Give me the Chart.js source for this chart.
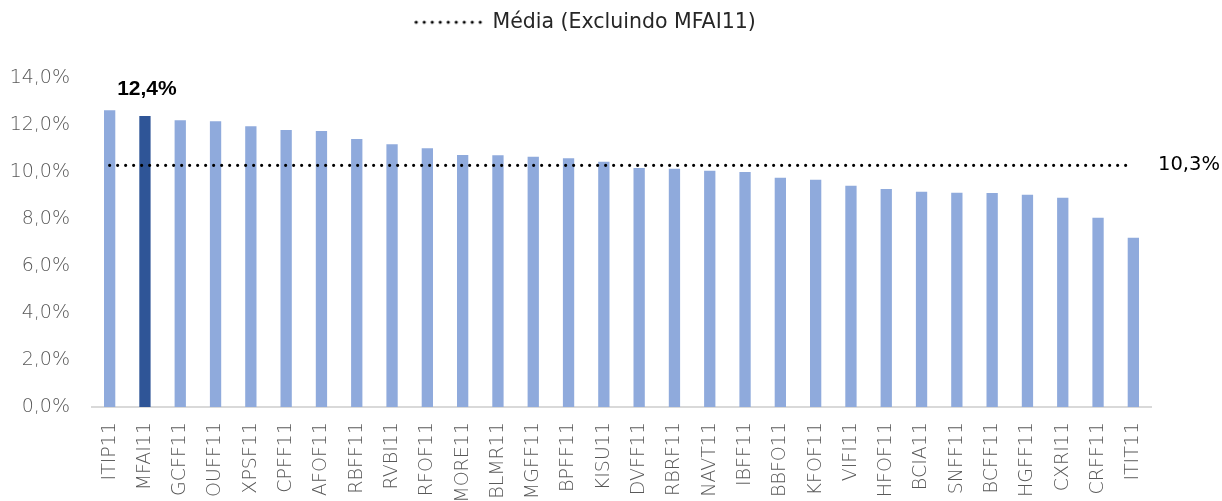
<!DOCTYPE html>
<html>
<head>
<meta charset="utf-8">
<script src="https://cdn.jsdelivr.net/npm/chart.js@4"></script>
<style>
  html, body { margin: 0; background: #fff; }
  #wrap { width: 1222px; height: 501px; }
</style>
</head>
<body>
<div id="wrap"><canvas id="chart"></canvas></div>
<script>
// Fund tickers (x categories)
const funds = [
  'ITIP11', 'MFAI11', 'GCFF11', 'OUFF11', 'XPSF11', 'CPFF11', 'AFOF11', 'RBFF11',
  'RVBI11', 'RFOF11', 'MORE11', 'BLMR11', 'MGFF11', 'BPFF11', 'KISU11', 'DVFF11',
  'RBRF11', 'NAVT11', 'IBFF11', 'BBFO11', 'KFOF11', 'VIFI11', 'HFOF11', 'BCIA11',
  'SNFF11', 'BCFF11', 'HGFF11', 'CXRI11', 'CRFF11', 'ITIT11'
];

// Yield per fund (%)
const yields = [
  12.65, 12.4, 12.22, 12.18, 11.97, 11.8, 11.76, 11.42,
  11.2, 11.03, 10.74, 10.73, 10.66, 10.6, 10.45, 10.19,
  10.15, 10.07, 10.02, 9.77, 9.68, 9.43, 9.29, 9.17,
  9.13, 9.12, 9.05, 8.92, 8.07, 7.21
];

const highlightFund = 'MFAI11';
const averageValue = 10.3;
const averageLabel = 'Média (Excluindo MFAI11)';
const yTicks = [0, 2, 4, 6, 8, 10, 12, 14];

const tickFont = { size: 19, family: "'DejaVu Sans'", weight: '200' };

function pct(v) {
  return v.toFixed(1).replace('.', ',') + '%';
}

// dotted sample used as the legend symbol
function dottedSample(w) {
  const c = document.createElement('canvas');
  c.width = w;
  c.height = 6;
  const g = c.getContext('2d');
  g.strokeStyle = '#000';
  g.lineWidth = 3.2;
  g.lineCap = 'round';
  g.setLineDash([0, 8]);
  g.beginPath();
  g.moveTo(2, 3);
  g.lineTo(w - 2, 3);
  g.stroke();
  return c;
}

// extra room under the legend
const legendGap = {
  id: 'legendGap',
  beforeInit(chart) {
    const fit = chart.legend.fit;
    chart.legend.fit = function () {
      fit.bind(chart.legend)();
      this.height += 36;
    };
  }
};

// value labels: highlighted bar + average line
const valueLabels = {
  id: 'valueLabels',
  afterDatasetsDraw(chart) {
    const { ctx, chartArea } = chart;
    const x = chart.scales.x, y = chart.scales.y;
    const i = funds.indexOf(highlightFund);
    ctx.save();
    ctx.fillStyle = '#000';
    ctx.textBaseline = 'middle';
    ctx.textAlign = 'center';
    ctx.font = 'bold 21px "Liberation Sans"';
    ctx.fillText(pct(yields[i]), x.getPixelForValue(i) + 2, y.getPixelForValue(yields[i]) - 27);
    ctx.textAlign = 'left';
    ctx.font = '19.5px "DejaVu Sans"';
    ctx.fillText(pct(averageValue), chartArea.right + 7, y.getPixelForValue(averageValue));
    ctx.restore();
  }
};

const ctx = document.getElementById('chart').getContext('2d');
new Chart(ctx, {
  data: {
    labels: funds,
    datasets: [
      {
        type: 'line',
        label: averageLabel,
        data: funds.map(() => averageValue),
        borderColor: '#000',
        borderWidth: 3.2,
        borderDash: [0, 8],
        borderCapStyle: 'round',
        pointRadius: 0,
        fill: false,
        order: 0
      },
      {
        type: 'bar',
        label: 'Yield',
        data: yields,
        backgroundColor: funds.map(f => f === highlightFund ? '#2F5597' : '#8FAADC'),
        categoryPercentage: 1,
        barPercentage: 0.32,
        order: 1
      }
    ]
  },
  options: {
    responsive: true,
    maintainAspectRatio: false,
    animation: false,
    layout: {
      padding: { top: 2, right: 50, left: 0, bottom: 0 }
    },
    plugins: {
      tooltip: { enabled: false },
      legend: {
        display: true,
        position: 'top',
        labels: {
          filter: item => item.text === averageLabel,
          usePointStyle: true,
          pointStyle: dottedSample(70),
          pointStyleWidth: 66,
          color: '#262626',
          font: { size: 20.5, family: "'DejaVu Sans'" },
          padding: 10
        }
      }
    },
    scales: {
      x: {
        grid: { display: false, drawTicks: false },
        border: { color: '#d9d9d9', width: 2 },
        afterFit: axis => { axis.height = 94; },
        ticks: {
          minRotation: 90,
          maxRotation: 90,
          autoSkip: false,
          padding: 15,
          color: '#595959',
          font: tickFont
        }
      },
      y: {
        min: 0,
        max: 14,
        grid: { display: false, drawTicks: false },
        border: { display: false },
        afterFit: axis => { axis.width = 92; },
        afterBuildTicks: axis => {
          axis.ticks = yTicks.map(v => ({ value: v }));
        },
        ticks: {
          padding: 22,
          color: '#595959',
          font: tickFont,
          callback: v => pct(v)
        }
      },
      // empty right axis: room for the average label
      y2: {
        position: 'right',
        grid: { display: false, drawTicks: false },
        border: { display: false },
        ticks: { display: false },
        afterFit: axis => { axis.width = 21; }
      }
    }
  },
  plugins: [legendGap, valueLabels]
});
</script>
</body>
</html>
